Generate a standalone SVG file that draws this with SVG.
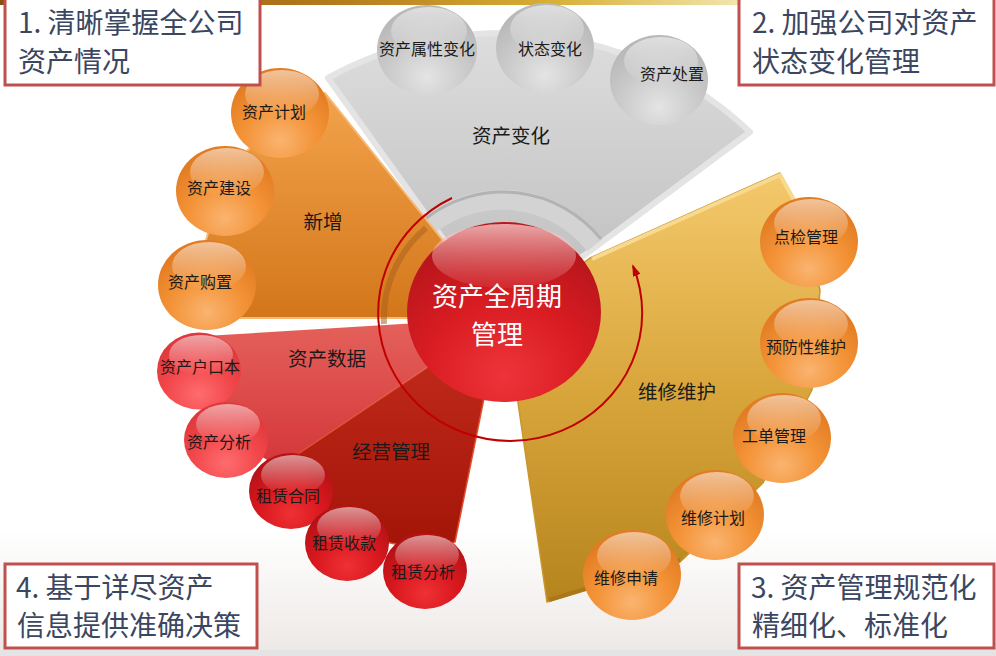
<svg xmlns="http://www.w3.org/2000/svg" width="996" height="656" viewBox="0 0 996 656">
<defs>
<style>
text{font-family:"Noto Sans CJK SC","Noto Sans",sans-serif;}
.bt{font-size:16px;fill:#1a1a1a;text-anchor:middle;}
.st{font-size:19.5px;fill:#1a1a1a;text-anchor:middle;}
.box{fill:#ffffff;stroke:#c0504d;stroke-width:3;}
.bx{font-size:28px;fill:#3b4660;}
.hl{fill:url(#gHi);}
.bo{fill:url(#gBO);}
.bg{fill:url(#gBG);}
.brl{fill:url(#gBRL);}
.brd{fill:url(#gBRD);}
</style>
<linearGradient id="gTop" x1="0" y1="0" x2="1" y2="0">
<stop offset="0" stop-color="#8a4f10"/><stop offset="0.45" stop-color="#b57a1c"/><stop offset="0.75" stop-color="#d8b035"/><stop offset="1" stop-color="#f2e6b0"/>
</linearGradient>
<linearGradient id="gGray" x1="0" y1="0" x2="0" y2="1">
<stop offset="0" stop-color="#dddddd"/><stop offset="1" stop-color="#bcbcbc"/>
</linearGradient>
<linearGradient id="gOr" x1="0" y1="0" x2="0" y2="1">
<stop offset="0" stop-color="#f3a34c"/><stop offset="1" stop-color="#d3761a"/>
</linearGradient>
<linearGradient id="gRL" x1="0" y1="0" x2="0" y2="1">
<stop offset="0" stop-color="#e5625b"/><stop offset="1" stop-color="#d4363a"/>
</linearGradient>
<linearGradient id="gRD" x1="0" y1="0" x2="0" y2="1">
<stop offset="0" stop-color="#c52d1e"/><stop offset="1" stop-color="#a31508"/>
</linearGradient>
<linearGradient id="gGold" x1="0" y1="0" x2="0" y2="1">
<stop offset="0" stop-color="#f4c96c"/><stop offset="0.5" stop-color="#d9a63c"/><stop offset="1" stop-color="#b5841c"/>
</linearGradient>
<linearGradient id="gHi" x1="0" y1="0" x2="0" y2="1">
<stop offset="0" stop-color="#ffffff" stop-opacity="0.55"/><stop offset="1" stop-color="#ffffff" stop-opacity="0"/>
</linearGradient>
<linearGradient id="gCHi" x1="0" y1="0" x2="0" y2="1">
<stop offset="0" stop-color="#f7caca" stop-opacity="0.8"/><stop offset="1" stop-color="#f0a0a0" stop-opacity="0.1"/>
</linearGradient>
<radialGradient id="gBO" cx="0.5" cy="0.8" r="0.7">
<stop offset="0" stop-color="#fab470"/><stop offset="0.55" stop-color="#f39236"/><stop offset="1" stop-color="#e27c22"/>
</radialGradient>
<radialGradient id="gBG" cx="0.5" cy="0.8" r="0.7">
<stop offset="0" stop-color="#e4e4e4"/><stop offset="0.55" stop-color="#cbcbcb"/><stop offset="1" stop-color="#b9b9b9"/>
</radialGradient>
<radialGradient id="gBRL" cx="0.5" cy="0.8" r="0.7">
<stop offset="0" stop-color="#ff6c6e"/><stop offset="0.55" stop-color="#f2484c"/><stop offset="1" stop-color="#e0383c"/>
</radialGradient>
<radialGradient id="gBRD" cx="0.5" cy="0.8" r="0.7">
<stop offset="0" stop-color="#ef3034"/><stop offset="0.55" stop-color="#d8181e"/><stop offset="1" stop-color="#b51216"/>
</radialGradient>
<radialGradient id="gCen" cx="0.5" cy="0.85" r="0.75">
<stop offset="0" stop-color="#ee343a"/><stop offset="0.55" stop-color="#d81c22"/><stop offset="1" stop-color="#b9161c"/>
</radialGradient>
<linearGradient id="gBot" x1="0" y1="0" x2="0" y2="1">
<stop offset="0" stop-color="#ebe6e3" stop-opacity="0"/><stop offset="1" stop-color="#e8e3e0" stop-opacity="0.8"/>
</linearGradient>
<marker id="arr" viewBox="0 0 12 8" markerWidth="12" markerHeight="8" refX="10" refY="4" orient="auto" markerUnits="userSpaceOnUse">
<path d="M0,0 L12,4 L0,8 Z" fill="#c00000"/>
</marker>
</defs>

<rect x="0" y="0" width="996" height="656" fill="#ffffff"/>
<rect x="0" y="530" width="996" height="120" fill="url(#gBot)"/>
<rect x="0" y="650" width="996" height="6" fill="#e4e4e4"/>
<rect x="0" y="0" width="740" height="5" fill="url(#gTop)"/>

<g id="sectors">
<g id="sector-change">
<path d="M500,318 L328,78 A360,360 0 0 1 750,132 Z" fill="url(#gGray)" stroke="#e4e4e4" stroke-width="6" stroke-linejoin="round"/>
<path d="M429,225 A118,118 0 0 1 595,245" fill="none" stroke="#d3d3d3" stroke-width="20"/>
<path d="M425,219 A126,126 0 0 1 601,239" fill="none" stroke="#b3b3b3" stroke-width="3"/>
<text class="st" x="511" y="143">资产变化</text>
</g>
<g id="sector-add">
<path d="M505,318 L325,93 Q205,140 195,318 Z" fill="url(#gOr)" stroke="#f5b977" stroke-width="2" stroke-linejoin="round"/>
<path d="M384,324 A118,118 0 0 1 426,228" fill="none" stroke="#a9621c" stroke-width="6" opacity="0.55"/>
<text class="st" x="323" y="229">新增</text>
</g>
<g id="sector-data">
<path d="M500,318 L205,336 C192,385 220,440 280,466 Z" fill="url(#gRL)"/>
<text class="st" x="327" y="366">资产数据</text>
</g>
<g id="sector-ops">
<path d="M500,319 L280,466 C310,515 380,560 455,542 Z" fill="url(#gRD)" stroke="#e0502e" stroke-width="1.5" stroke-linejoin="round"/>
<text class="st" x="391" y="459">经营管理</text>
</g>
<g id="sector-maint">
<path d="M506,320 L590,258 L780,173 L795,200 L820,290 L812,390 L763,483 L680,562 L547,602 Z" fill="url(#gGold)" stroke="#c9962e" stroke-width="1.5" stroke-linejoin="round"/>
<path d="M592,259 L780,175 L794,200" fill="none" stroke="#f8d990" stroke-width="4" stroke-linejoin="round"/>
<path d="M549,600 L680,560" fill="none" stroke="#a9781a" stroke-width="4"/>
<text class="st" x="677" y="399">维修维护</text>
</g>
</g>

<g id="connectors">
<path d="M452,198 A132,128 0 1 0 633,266" fill="none" stroke="#c00000" stroke-width="2" marker-end="url(#arr)"/>
</g>

<g id="b-attr"><ellipse class="bg" cx="427" cy="50" rx="50" ry="45"/><ellipse class="hl" cx="429" cy="31" rx="38" ry="24"/><text class="bt" x="427" y="55">资产属性变化</text></g>
<g id="b-state"><ellipse class="bg" cx="545" cy="48" rx="49" ry="45"/><ellipse class="hl" cx="547" cy="29" rx="37" ry="24"/><text class="bt" x="550" y="55">状态变化</text></g>
<g id="b-dispose"><ellipse class="bg" cx="659" cy="80" rx="49" ry="45"/><ellipse class="hl" cx="661" cy="61" rx="37" ry="24"/><text class="bt" x="672" y="80">资产处置</text></g>

<g id="b-plan"><ellipse class="bo" cx="280" cy="113" rx="49" ry="45"/><ellipse class="hl" cx="282" cy="94" rx="37" ry="24"/><text class="bt" x="274" y="118">资产计划</text></g>
<g id="b-build"><ellipse class="bo" cx="225" cy="191" rx="49" ry="45"/><ellipse class="hl" cx="227" cy="172" rx="37" ry="24"/><text class="bt" x="219" y="194">资产建设</text></g>
<g id="b-buy"><ellipse class="bo" cx="207" cy="285" rx="49" ry="45"/><ellipse class="hl" cx="209" cy="266" rx="37" ry="24"/><text class="bt" x="200" y="288">资产购置</text></g>

<g id="b-ledger"><ellipse class="brl" cx="199" cy="371" rx="42" ry="38.5"/><ellipse class="hl" cx="201" cy="355" rx="32" ry="20"/><text class="bt" x="200" y="373">资产户口本</text></g>
<g id="b-analysis"><ellipse class="brl" cx="226" cy="440" rx="42" ry="38"/><ellipse class="hl" cx="228" cy="424" rx="32" ry="20"/><text class="bt" x="219" y="448">资产分析</text></g>
<g id="b-contract"><ellipse class="brd" cx="291" cy="491" rx="42" ry="38"/><ellipse class="hl" cx="293" cy="475" rx="32" ry="20"/><text class="bt" x="288" y="502">租赁合同</text></g>
<g id="b-receipt"><ellipse class="brd" cx="347" cy="543" rx="42" ry="38"/><ellipse class="hl" cx="349" cy="527" rx="32" ry="20"/><text class="bt" x="344" y="549">租赁收款</text></g>
<g id="b-lease"><ellipse class="brd" cx="425" cy="571" rx="42" ry="38"/><ellipse class="hl" cx="427" cy="555" rx="32" ry="20"/><text class="bt" x="423" y="578">租赁分析</text></g>

<g id="b-inspect"><ellipse class="bo" cx="809" cy="242" rx="49" ry="45"/><ellipse class="hl" cx="811" cy="223" rx="37" ry="24"/><text class="bt" x="806" y="243">点检管理</text></g>
<g id="b-prevent"><ellipse class="bo" cx="809" cy="343" rx="49" ry="45"/><ellipse class="hl" cx="811" cy="324" rx="37" ry="24"/><text class="bt" x="806" y="353">预防性维护</text></g>
<g id="b-order"><ellipse class="bo" cx="782" cy="438" rx="49" ry="45"/><ellipse class="hl" cx="784" cy="419" rx="37" ry="24"/><text class="bt" x="774" y="442">工单管理</text></g>
<g id="b-mplan"><ellipse class="bo" cx="715" cy="515" rx="49" ry="45"/><ellipse class="hl" cx="717" cy="496" rx="37" ry="24"/><text class="bt" x="713" y="524">维修计划</text></g>
<g id="b-request"><ellipse class="bo" cx="632" cy="575" rx="49" ry="45"/><ellipse class="hl" cx="634" cy="556" rx="37" ry="24"/><text class="bt" x="626" y="584">维修申请</text></g>

<g id="center">
<ellipse cx="504" cy="312" rx="97" ry="90" fill="url(#gCen)"/>
<ellipse cx="504" cy="256" rx="72" ry="32" fill="url(#gCHi)"/>
<text x="497" y="306" font-size="26" fill="#ffffff" text-anchor="middle">资产全周期</text>
<text x="497" y="344" font-size="26" fill="#ffffff" text-anchor="middle">管理</text>
</g>

<g id="note1">
<rect class="box" x="5" y="-2" width="255" height="87"/>
<text class="bx" x="18" y="33">1. 清晰掌握全公司</text>
<text class="bx" x="18" y="72">资产情况</text>
</g>
<g id="note2">
<rect class="box" x="739" y="-2" width="255" height="87"/>
<text class="bx" x="752" y="33">2. 加强公司对资产</text>
<text class="bx" x="752" y="72">状态变化管理</text>
</g>
<g id="note3">
<rect class="box" x="739" y="564" width="255" height="84"/>
<text class="bx" x="751" y="598">3. 资产管理规范化</text>
<text class="bx" x="752" y="636">精细化、标准化</text>
</g>
<g id="note4">
<rect class="box" x="5" y="564" width="252" height="84"/>
<text class="bx" x="16" y="598">4. 基于详尽资产</text>
<text class="bx" x="17" y="636">信息提供准确决策</text>
</g>
</svg>
